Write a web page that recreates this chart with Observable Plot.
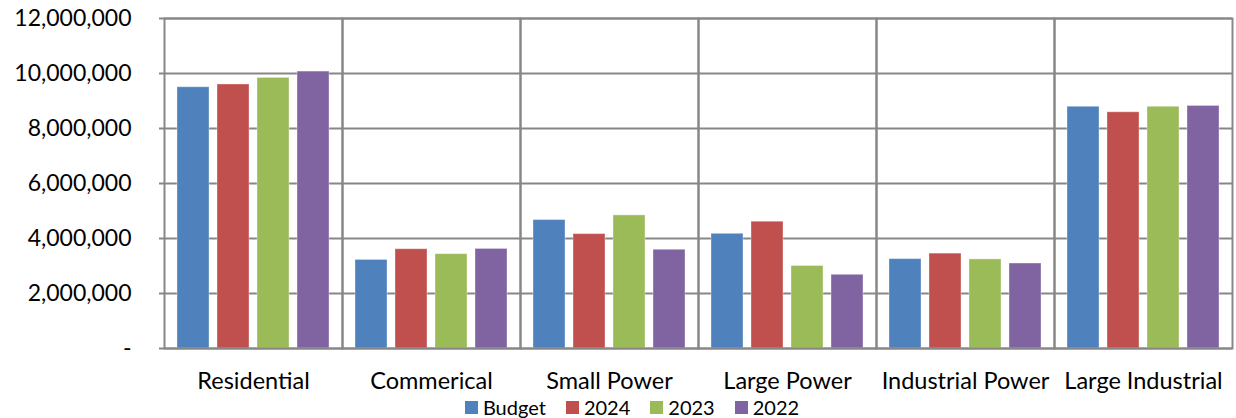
<!DOCTYPE html>
<html>
<head>
<meta charset="utf-8">
<script src="https://cdn.jsdelivr.net/npm/d3@7"></script>
<script src="https://cdn.jsdelivr.net/npm/@observablehq/plot@0.6"></script>
<style>
  html, body { margin: 0; padding: 0; background: #fff; }
  #chart svg { display: block; font-family: Lato, "Open Sans", sans-serif; }
  #legend { position: relative; width: 1236px; height: 22px; line-height: 22px; margin-top: -2px; display: flex; justify-content: center; align-items: center;
    font-family: Lato, "Open Sans", sans-serif; font-size: 20px; color: #000; box-sizing: border-box; padding-left: 28px; }
  .item { display: flex; align-items: center; margin: 0 10px; }
  .sw { width: 13px; height: 13px; margin-right: 5px; display: inline-block; }
</style>
</head>
<body>
<div id="chart"></div>
<div id="legend"></div>
<script>
const categories = ["Residential", "Commerical", "Small Power", "Large Power", "Industrial Power", "Large Industrial"];
const series = ["Budget", "2024", "2023", "2022"];
const budget = [9500000, 3220000, 4670000, 4170000, 3250000, 8790000];
const y2024  = [9600000, 3610000, 4160000, 4610000, 3450000, 8590000];
const y2023  = [9840000, 3430000, 4840000, 3000000, 3240000, 8790000];
const y2022  = [10070000, 3620000, 3590000, 2680000, 3090000, 8820000];
const yTicks = [0, 2000000, 4000000, 6000000, 8000000, 10000000, 12000000];
const colors = ["#4F81BD", "#C0504D", "#9BBB59", "#8064A2"];

const seriesValues = [budget, y2024, y2023, y2022];
const data = [];
categories.forEach((c, i) => {
  series.forEach((s, j) => data.push({category: c, series: s, value: seriesValues[j][i]}));
});

const grid = "#878787";
const chart = Plot.plot({
  width: 1236,
  height: 398,
  marginTop: 18,
  marginBottom: 50,
  marginLeft: 162,
  marginRight: 2,
  fx: {domain: categories, padding: 0, label: null},
  x: {domain: series, paddingInner: 0.195, paddingOuter: 0.28, axis: null},
  y: {domain: [0, 12000000], label: null},
  color: {domain: series, range: colors},
  marks: [
    Plot.gridY(yTicks, {stroke: grid, strokeOpacity: 1, strokeWidth: 2}),
    Plot.barY(data, {fx: "category", x: "series", y: "value", fill: "series", stroke: "#ffffff", strokeOpacity: 0.35, strokeWidth: 1}),
    Plot.frame({stroke: grid, strokeWidth: 2}),
    Plot.axisY(yTicks, {tickFormat: d => d === 0 ? "-" : d3.format(",")(d), tickSize: 5, tickPadding: 28, fontSize: 23, stroke: grid, strokeWidth: 2, color: "#000", label: null}),
    Plot.axisFx({anchor: "bottom", tickSize: 0, tickPadding: 24, fontSize: 23.5, color: "#000", label: null})
  ]
});
document.getElementById("chart").appendChild(chart);

const legend = document.getElementById("legend");
series.forEach((s, i) => {
  const it = document.createElement("div");
  it.className = "item";
  it.innerHTML = `<span class="sw" style="background:${colors[i]}"></span><span>${s}</span>`;
  legend.appendChild(it);
});
</script>
</body>
</html>
